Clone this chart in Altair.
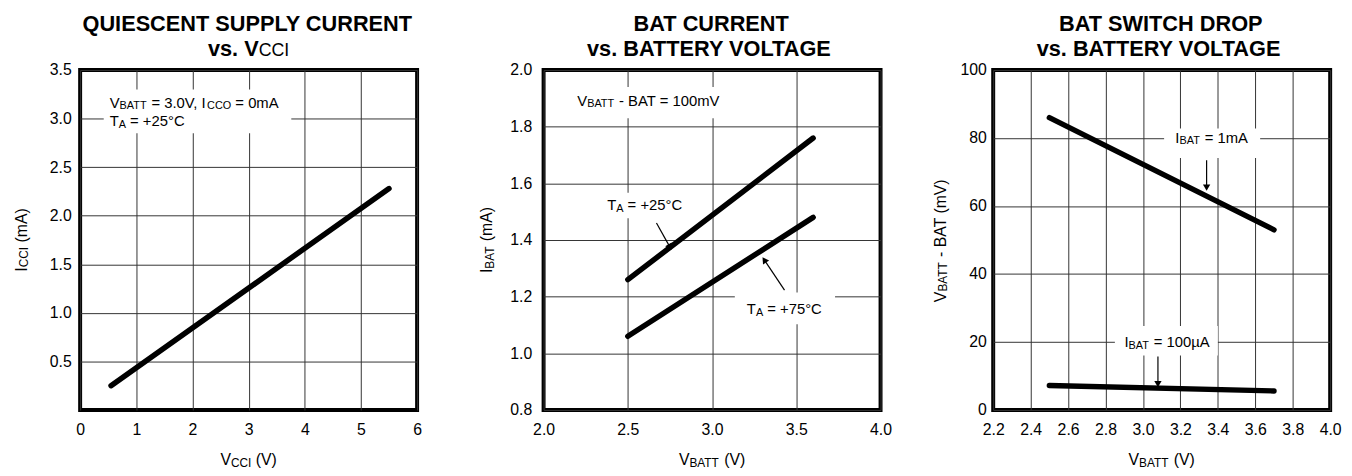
import altair as alt
import pandas as pd

# ---------------- data ----------------
# Panel 1: quiescent supply current vs VCCI
p1_vcci = [0.55, 5.5]
p1_icci = [0.25, 2.28]
# Panel 2: BAT current vs battery voltage
p2_vbatt = [2.5, 3.6]
p2_ibat_25c = [1.26, 1.76]
p2_ibat_75c = [1.06, 1.48]
# Panel 3: BAT switch drop vs battery voltage
p3_vbatt = [2.5, 3.7]
p3_drop_1ma = [86.0, 53.0]
p3_drop_100ua = [7.2, 5.6]

# tick values
p1_xticks = [0, 1, 2, 3, 4, 5, 6]
p1_yticks = [0.5, 1.0, 1.5, 2.0, 2.5, 3.0, 3.5]
p2_xticks = [2.0, 2.5, 3.0, 3.5, 4.0]
p2_yticks = [0.8, 1.0, 1.2, 1.4, 1.6, 1.8, 2.0]
p3_xticks = [2.2, 2.4, 2.6, 2.8, 3.0, 3.2, 3.4, 3.6, 3.8, 4.0]
p3_yticks = [0, 20, 40, 60, 80, 100]

# text pieces: (text, role) where role M = normal, S = subscript
p1_title = [[("QUIESCENT SUPPLY CURRENT", "TB")], [("vs. V", "TB"), ("CCI", "TS")]]
p2_title = [[("BAT CURRENT", "TB")], [("vs. BATTERY VOLTAGE", "TB")]]
p3_title = [[("BAT SWITCH DROP", "TB")], [("vs. BATTERY VOLTAGE", "TB")]]
p1_xtitle = [("V", "M"), ("CCI", "S"), (" (V)", "M")]
p1_ytitle = [("I", "M"), ("CCI", "S"), (" (mA)", "M")]
p2_xtitle = [("V", "M"), ("BATT", "S"), (" (V)", "M")]
p2_ytitle = [("I", "M"), ("BAT", "S"), (" (mA)", "M")]
p3_xtitle = [("V", "M"), ("BATT", "S"), (" (V)", "M")]
p3_ytitle = [("V", "M"), ("BATT", "S"), (" - BAT (mV)", "M")]

# annotations: (pieces, x, y, align)
p1_notes = [([("V", "N"), ("BATT", "n"), (" = 3.0V, I", "N"), ("CCO", "n"), (" = 0mA", "N")], 0.526, 3.113, "left"),
            ([("T", "N"), ("A", "n"), (" = +25°C", "N")], 0.526, 2.92, "left")]
p1_boxes = [(0.42, 3.76, 2.85, 3.30)]
p2_notes = [([("V", "N"), ("BATT", "n"), (" - BAT = 100mV", "N")], 2.2, 1.874, "left"),
            ([("T", "N"), ("A", "n"), (" = +25°C", "N")], 2.6, 1.505, "center"),
            ([("T", "N"), ("A", "n"), (" = +75°C", "N")], 3.429, 1.1376, "center")]
p2_boxes = [(2.12, 3.12, 1.83, 1.94), (2.36, 2.86, 1.477, 1.567), (3.135, 3.73, 1.103, 1.215)]
p2_arrows = [(2.67, 1.46, 2.75, 1.375, "triangle-down", 330),
             (3.43, 1.223, 3.31, 1.33, "triangle-up", 326)]
p3_notes = [([("I", "N"), ("BAT", "n"), (" = 1mA", "N")], 3.367, 78.6, "center"),
            ([("I", "N"), ("BAT", "n"), (" = 100µA", "N")], 3.129, 18.46, "center")]
p3_boxes = [(3.113, 3.626, 74.1, 82.8), (2.85, 3.40, 16.0, 24.7)]
p3_arrows = [(3.34, 73.5, 3.34, 65.4, "triangle-down", 0),
             (3.08, 15.7, 3.08, 7.6, "triangle-down", 0)]

SANS = "Liberation Sans, Arial, Helvetica, sans-serif"
W, H = 341, 344
# role -> (font size, bold, baseline drop px)
ROLES = {"TB": (22, True, 0), "TS": (18, False, 0), "M": (16, False, 0), "S": (12, False, 1.5),
         "N": (15, False, 0), "n": (11, False, 1.5)}

REGW = {" ": 278, "(": 333, ")": 333, "+": 584, ",": 278, "-": 333, ".": 278, "=": 584,
        "A": 667, "B": 667, "C": 722, "D": 722, "E": 667, "I": 278, "L": 556, "O": 778,
        "T": 611, "V": 667, "m": 833, "°": 400, "µ": 576}
BOLDW = {" ": 278, ".": 278, "A": 722, "B": 722, "C": 722, "D": 722, "E": 667, "G": 778,
         "H": 722, "I": 278, "L": 611, "N": 722, "O": 778, "P": 667, "Q": 778, "R": 722,
         "S": 667, "T": 611, "U": 722, "V": 667, "W": 944, "Y": 667, "v": 556, "s": 556}


def twidth(s, size, bold):
    tbl = BOLDW if bold else REGW
    return sum(tbl.get(c, 556) for c in s) / 1000.0 * size


def rich_rows(pieces, ax, ay, align, angle, xpp, ypp):
    segs = []
    for t, role in pieces:
        sz, b, d = ROLES[role]
        segs.append((t, sz, b, d, twidth(t, sz, b)))
    total = sum(s[4] for s in segs)
    cum = -total / 2.0 if align == "center" else 0.0
    rows = []
    for t, sz, b, d, w in segs:
        lead = len(t) - len(t.lstrip(" "))
        off = cum + twidth(" " * lead, sz, b)
        if angle == 0:
            x, y = ax + off * xpp, ay - d * ypp
        else:
            x, y = ax + d * xpp, ay + off * ypp
        rows.append({"x": x, "y": y, "t": t.strip(" "), "size": sz, "bold": b, "angle": angle})
        cum += w
    return rows


def panel(series, xdom, ydom, xticks, yticks, xfmt, yfmt, xtitle, ytitle, title,
          notes, boxes, arrows, ytitle_gap, ylabelpad):
    xpp = (xdom[1] - xdom[0]) / W
    ypp = (ydom[1] - ydom[0]) / H
    xmid = (xdom[0] + xdom[1]) / 2
    ymid = (ydom[0] + ydom[1]) / 2
    xscale = alt.Scale(domain=xdom, nice=False, zero=False)
    yscale = alt.Scale(domain=ydom, nice=False, zero=False)
    xaxis = alt.Axis(values=xticks, format=xfmt, title=None, grid=True, ticks=False,
                     domain=False, labelFlush=False, labelOverlap=False, labelPadding=12)
    yaxis = alt.Axis(values=yticks, format=yfmt, title=None, grid=True, ticks=False,
                     domain=False, labelOverlap=False, labelPadding=ylabelpad)

    def X(f):
        return alt.X(f, type="quantitative", scale=xscale, axis=xaxis)

    def Y(f):
        return alt.Y(f, type="quantitative", scale=yscale, axis=yaxis)

    rows = []
    for name, xs, ys in series:
        for a, b in zip(xs, ys):
            rows.append({"s": name, "x": a, "y": b})
    df = pd.DataFrame(rows)

    trows = []
    for pieces, ax, ay, al in notes:
        trows += rich_rows(pieces, ax, ay, al, 0, xpp, ypp)
    trows += rich_rows(xtitle, xmid, ydom[0] - 56 * ypp, "center", 0, xpp, ypp)
    trows += rich_rows(ytitle, xdom[0] - ytitle_gap * xpp, ymid, "center", 270, xpp, ypp)
    trows += rich_rows(title[0], xmid, ydom[1] + 40 * ypp, "center", 0, xpp, ypp)
    trows += rich_rows(title[1], xmid, ydom[1] + 14 * ypp, "center", 0, xpp, ypp)
    tdf = pd.DataFrame(trows)

    layers = []
    bdf = pd.DataFrame(boxes, columns=["x", "x1", "y", "y1"])
    layers.append(alt.Chart(bdf).mark_rect(color="white", opacity=1).encode(
        x=X("x"), x2="x1", y=Y("y"), y2="y1"))
    layers.append(alt.Chart(df).mark_line(color="black", strokeWidth=5.5, strokeCap="round").encode(
        x=X("x"), y=Y("y"), detail="s:N"))
    for bold in [False, True]:
        sub = tdf[tdf.bold == bold]
        if len(sub):
            layers.append(alt.Chart(sub).mark_text(
                align="left", baseline="alphabetic", font=SANS,
                fontWeight="bold" if bold else "normal", color="black").encode(
                x=X("x"), y=Y("y"), text="t:N",
                size=alt.Size("size:Q", scale=None),
                angle=alt.Angle("angle:Q", scale=None)))
    if arrows:
        adf = pd.DataFrame(arrows, columns=["x", "y", "x1", "y1", "shape", "ang"])
        layers.append(alt.Chart(adf).mark_rule(color="black", strokeWidth=1.2).encode(
            x=X("x"), y=Y("y"), x2="x1", y2="y1"))
        layers.append(alt.Chart(adf).mark_point(filled=True, color="black", size=55, opacity=1).encode(
            x=X("x1"), y=Y("y1"), shape=alt.Shape("shape:N", scale=None),
            angle=alt.Angle("ang:Q", scale=None)))
    return alt.layer(*layers).properties(width=W, height=H)


c1 = panel([("a", p1_vcci, p1_icci)], [0, 6], [0, 3.5], p1_xticks, p1_yticks, "d", ".1f",
           p1_xtitle, p1_ytitle, p1_title, p1_notes, p1_boxes, [], 54, 9)
c2 = panel([("25", p2_vbatt, p2_ibat_25c), ("75", p2_vbatt, p2_ibat_75c)], [2.0, 4.0], [0.8, 2.0],
           p2_xticks, p2_yticks, ".1f", ".1f", p2_xtitle, p2_ytitle, p2_title,
           p2_notes, p2_boxes, p2_arrows, 52, 12)
c3 = panel([("1m", p3_vbatt, p3_drop_1ma), ("100u", p3_vbatt, p3_drop_100ua)], [2.2, 4.0], [0, 100],
           p3_xticks, p3_yticks, ".1f", "d", p3_xtitle, p3_ytitle, p3_title,
           p3_notes, p3_boxes, p3_arrows, 48, 7)

chart = alt.hconcat(alt.hconcat(c1, c2, spacing=54), c3, spacing=36).properties(
    padding={"left": 4, "top": 0, "right": 0, "bottom": 0}
).configure_view(stroke="black", strokeWidth=4).configure_axis(
    labelFont=SANS, labelFontSize=16, labelColor="black",
    gridColor="#333333", gridWidth=1, gridOpacity=1
)

chart.save("out.html", embed_options={"renderer": "svg", "actions": False})
